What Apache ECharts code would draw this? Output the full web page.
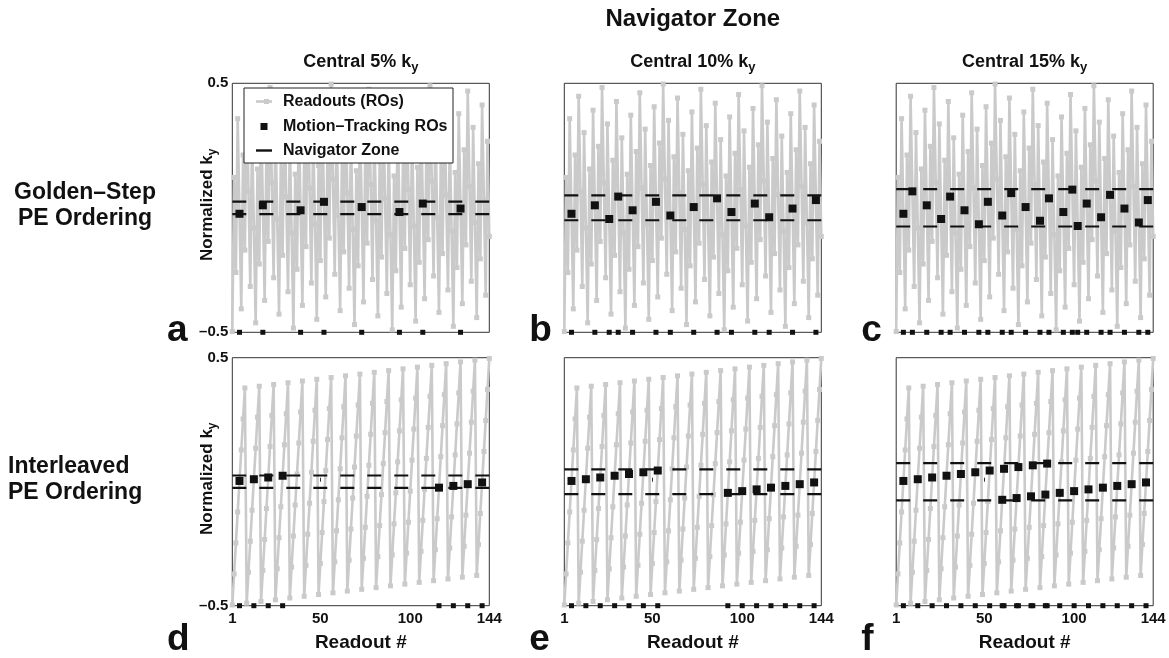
<!DOCTYPE html>
<html>
<head>
<meta charset="utf-8">
<script src="https://cdn.jsdelivr.net/npm/echarts@6/dist/echarts.min.js"></script>
<style>
  html, body { margin: 0; padding: 0; background: #fff; }
  #main { width: 1169px; height: 658px; }
</style>
</head>
<body>
<div id="main"></div>
<script>
// normalized ky of each readout (1..144), golden-step ordering (top row)
var goldenStepKy = [
  -0.497, 0.122, -0.260, 0.358, -0.024, -0.406, 0.212, -0.170, 0.448, 0.066,
  -0.316, 0.302, -0.080, -0.462, 0.156, -0.226, 0.392, 0.010, -0.372, 0.247,
  -0.135, 0.483, 0.101, -0.281, 0.337, -0.045, -0.427, 0.191, -0.191, 0.427,
  0.045, -0.337, 0.281, -0.101, -0.483, 0.135, -0.247, 0.372, -0.010, -0.392,
  0.226, -0.156, 0.462, 0.080, -0.302, 0.316, -0.066, -0.448, 0.170, -0.212,
  0.406, 0.024, -0.358, 0.260, -0.122, 0.497, 0.115, -0.267, 0.351, -0.031,
  -0.413, 0.205, -0.177, 0.441, 0.059, -0.323, 0.295, -0.087, -0.469, 0.149,
  -0.233, 0.385, 0.003, -0.378, 0.240, -0.142, 0.476, 0.094, -0.288, 0.330,
  -0.052, -0.434, 0.184, -0.198, 0.420, 0.038, -0.344, 0.274, -0.108, -0.490,
  0.128, -0.253, 0.365, -0.017, -0.399, 0.219, -0.163, 0.455, 0.073, -0.309,
  0.309, -0.073, -0.455, 0.163, -0.219, 0.399, 0.017, -0.365, 0.253, -0.128,
  0.490, 0.108, -0.274, 0.344, -0.038, -0.420, 0.198, -0.184, 0.434, 0.052,
  -0.330, 0.288, -0.094, -0.476, 0.142, -0.240, 0.378, -0.003, -0.385, 0.233,
  -0.149, 0.469, 0.087, -0.295, 0.323, -0.059, -0.441, 0.177, -0.205, 0.413,
  0.031, -0.351, 0.267, -0.115
];

// interleaved ordering (bottom row), 18 ramps of 8 readouts
var interleavedKy = [
  -0.497, -0.372, -0.247, -0.122, 0.003, 0.128, 0.253, 0.378,
  -0.490, -0.365, -0.240, -0.115, 0.010, 0.135, 0.260, 0.385,
  -0.483, -0.358, -0.233, -0.108, 0.017, 0.142, 0.267, 0.392,
  -0.476, -0.351, -0.226, -0.101, 0.024, 0.149, 0.274, 0.399,
  -0.469, -0.344, -0.219, -0.094, 0.031, 0.156, 0.281, 0.406,
  -0.462, -0.337, -0.212, -0.087, 0.038, 0.163, 0.288, 0.413,
  -0.455, -0.330, -0.205, -0.080, 0.045, 0.170, 0.295, 0.420,
  -0.448, -0.323, -0.198, -0.073, 0.052, 0.177, 0.302, 0.427,
  -0.441, -0.316, -0.191, -0.066, 0.059, 0.184, 0.309, 0.434,
  -0.434, -0.309, -0.184, -0.059, 0.066, 0.191, 0.316, 0.441,
  -0.427, -0.302, -0.177, -0.052, 0.073, 0.198, 0.323, 0.448,
  -0.420, -0.295, -0.170, -0.045, 0.080, 0.205, 0.330, 0.455,
  -0.413, -0.288, -0.163, -0.038, 0.087, 0.212, 0.337, 0.462,
  -0.406, -0.281, -0.156, -0.031, 0.094, 0.219, 0.344, 0.469,
  -0.399, -0.274, -0.149, -0.024, 0.101, 0.226, 0.351, 0.476,
  -0.392, -0.267, -0.142, -0.017, 0.108, 0.233, 0.358, 0.483,
  -0.385, -0.260, -0.135, -0.010, 0.115, 0.240, 0.365, 0.490,
  -0.378, -0.253, -0.128, -0.003, 0.122, 0.247, 0.372, 0.497
];

// navigator zone half widths: central 5%, 10%, 15% of ky
var zoneHalfWidth = [0.025, 0.05, 0.075];
var columnTitles = ['Central 5% k', 'Central 10% k', 'Central 15% k'];
var rowTitles = [['Golden\u2013Step', 'PE Ordering'], ['Interleaved', 'PE Ordering']];
var panelLetters = ['a', 'b', 'c', 'd', 'e', 'f'];
var xTicks = [1, 50, 100, 144];
var yTicks = [-0.5, 0.5];
var yMin = -0.5, yMax = 0.5;

var FONT = "'Liberation Sans', Arial, Helvetica, sans-serif";
var GRAY = '#cacaca';
var INK = '#111';

var colLeft = [232.3, 564.3, 896.2];
var colWidth = 257;
var rowTop = [83.3, 357.7];
var rowHeight = [249, 248];

var chart = echarts.init(document.getElementById('main'));

var grids = [], xAxes = [], yAxes = [], series = [];
var rowData = [goldenStepKy, interleavedKy];

for (var r = 0; r < 2; r++) {
  for (var c = 0; c < 3; c++) {
    var p = r * 3 + c;
    grids.push({
      left: colLeft[c], top: rowTop[r], width: colWidth, height: rowHeight[r],
      show: true, borderColor: '#333', borderWidth: 1, backgroundColor: '#fff'
    });
    xAxes.push({
      type: 'value', gridIndex: p, min: 1, max: 144,
      axisLine: { show: false }, splitLine: { show: false },
      axisTick: { show: r === 1, inside: true, length: 4, customValues: [50, 100], lineStyle: { color: '#333' } },
      axisLabel: {
        show: r === 1, customValues: xTicks, margin: 6,
        color: INK, fontFamily: FONT, fontWeight: 'bold', fontSize: 15
      }
    });
    yAxes.push({
      type: 'value', gridIndex: p, min: yMin, max: yMax,
      axisLine: { show: false }, splitLine: { show: false }, axisTick: { show: false },
      axisLabel: {
        show: c === 0, customValues: yTicks, margin: 4,
        color: INK, fontFamily: FONT, fontWeight: 'bold', fontSize: 15,
        formatter: function (v) { return v < 0 ? '\u2013' + Math.abs(v) : String(v); }
      }
    });

    var ky = rowData[r];
    var hw = zoneHalfWidth[c];
    var readouts = ky.map(function (v, i) { return [i + 1, v]; });
    var tracking = readouts.filter(function (d) { return Math.abs(d[1]) <= hw + 1e-9; });

    series.push({
      name: 'Readouts (ROs)', type: 'line', xAxisIndex: p, yAxisIndex: p,
      data: readouts, symbol: 'rect', symbolSize: 5, showSymbol: true, showAllSymbol: true,
      lineStyle: { color: GRAY, width: 2.6 }, itemStyle: { color: GRAY },
      z: 2, silent: true
    });
    [hw, -hw].forEach(function (lvl) {
      series.push({
        name: 'Navigator Zone', type: 'line', xAxisIndex: p, yAxisIndex: p,
        data: [[1, lvl], [144, lvl]], symbol: 'none',
        lineStyle: { color: INK, width: 2.2, type: [14, 13] },
        z: 3, silent: true
      });
    });
    series.push({
      name: 'Motion\u2013Tracking ROs', type: 'scatter', xAxisIndex: p, yAxisIndex: p,
      data: tracking, symbol: 'rect', symbolSize: 8,
      itemStyle: { color: INK, opacity: 1 }, z: 4, silent: true
    });
    series.push({
      name: 'tracking index', type: 'scatter', xAxisIndex: p, yAxisIndex: p,
      data: tracking.map(function (d) { return [d[0], yMin]; }), symbol: 'rect', symbolSize: 5,
      itemStyle: { color: INK, opacity: 1 }, z: 4, clip: false, silent: true
    });
  }
}

function subRich(size) {
  var L = size + 2;
  return {
    m: { fontFamily: FONT, fontWeight: 'bold', fontSize: size, lineHeight: L, verticalAlign: 'top', fill: INK },
    s: { fontFamily: FONT, fontWeight: 'bold', fontSize: Math.round(size * 0.72), lineHeight: L,
         verticalAlign: 'top', padding: [Math.round(size * 0.45), 0, 0, 0], fill: INK }
  };
}

var graphics = [];
// main title centered over the middle panel
graphics.push({
  type: 'text', x: colLeft[1] + colWidth / 2, y: 19, z: 100,
  style: { text: 'Navigator Zone', font: 'bold 24px ' + FONT, fill: INK, align: 'center', verticalAlign: 'middle' }
});
columnTitles.forEach(function (t, c) {
  graphics.push({
    type: 'text', x: colLeft[c] + colWidth / 2, y: 63, z: 100,
    style: { text: '{m|' + t + '}{s|y}', rich: subRich(18), align: 'center', verticalAlign: 'middle' }
  });
});
rowTitles.forEach(function (lines, r) {
  var cy = rowTop[r] + rowHeight[r] / 2;
  graphics.push({
    type: 'text', x: r === 0 ? 85 : 8, y: cy - 2, z: 100,
    style: {
      text: lines.join('\n'), font: 'bold 23px ' + FONT, fill: INK, lineHeight: 26,
      align: r === 0 ? 'center' : 'left', verticalAlign: 'middle'
    }
  });
  graphics.push({
    type: 'text', x: 208, y: cy - 3, rotation: Math.PI / 2, z: 100,
    style: { text: '{m|Normalized k}{s|y}', rich: subRich(17), align: 'center', verticalAlign: 'middle' }
  });
});
for (var c2 = 0; c2 < 3; c2++) {
  graphics.push({
    type: 'text', x: colLeft[c2] + colWidth / 2, y: 643, z: 100,
    style: { text: 'Readout #', font: 'bold 19px ' + FONT, fill: INK, align: 'center', verticalAlign: 'middle' }
  });
}
panelLetters.forEach(function (l, p) {
  var r = Math.floor(p / 3), c = p % 3;
  graphics.push({
    type: 'text', x: c === 0 ? 167 : colLeft[c] - 35, y: r === 0 ? 331 : 640, z: 100,
    style: { text: l, font: 'bold 37px ' + FONT, fill: INK, align: 'left', verticalAlign: 'middle' }
  });
});

// legend box inside panel a
var lgX = 244, lgY = 88, lgW = 209, lgH = 75;
graphics.push({
  type: 'rect', z: 100, shape: { x: lgX, y: lgY, width: lgW, height: lgH },
  style: { fill: '#fff', stroke: '#222', lineWidth: 1 }
});
var lgRows = [101.5, 126.5, 150.5];
graphics.push({ type: 'line', z: 101, shape: { x1: 256, y1: lgRows[0], x2: 272, y2: lgRows[0] }, style: { stroke: GRAY, lineWidth: 2.6 } });
graphics.push({ type: 'rect', z: 101, shape: { x: 264, y: lgRows[0] - 2.5, width: 5, height: 5 }, style: { fill: GRAY } });
graphics.push({ type: 'rect', z: 101, shape: { x: 260.5, y: lgRows[1] - 3.5, width: 7, height: 7 }, style: { fill: INK } });
graphics.push({ type: 'line', z: 101, shape: { x1: 256, y1: lgRows[2], x2: 272, y2: lgRows[2] }, style: { stroke: INK, lineWidth: 2.4 } });
['Readouts (ROs)', 'Motion\u2013Tracking ROs', 'Navigator Zone'].forEach(function (t, i) {
  graphics.push({
    type: 'text', z: 101, x: 283, y: lgRows[i],
    style: { text: t, font: 'bold 16px ' + FONT, fill: INK, align: 'left', verticalAlign: 'middle' }
  });
});

chart.setOption({
  animation: false,
  backgroundColor: '#fff',
  grid: grids,
  xAxis: xAxes,
  yAxis: yAxes,
  series: series,
  graphic: graphics
});
</script>
</body>
</html>
